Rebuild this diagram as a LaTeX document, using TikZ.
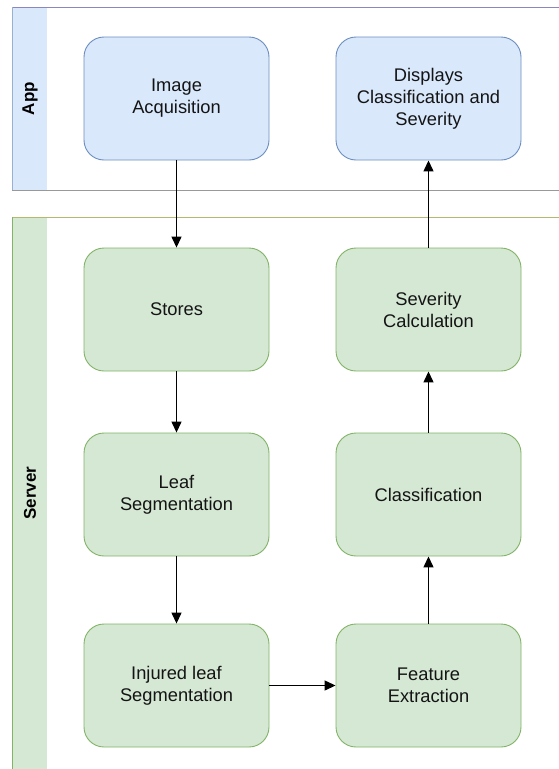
\documentclass[tikz,border=0pt]{standalone}
\usepackage{fontspec}
\setmainfont{Liberation Sans}
\usetikzlibrary{arrows.meta}
\definecolor{bfill}{HTML}{DAE8FC}
\definecolor{bstroke}{HTML}{6C8EBF}
\definecolor{gfill}{HTML}{D5E8D4}
\definecolor{gstroke}{HTML}{82B366}
\definecolor{lanetop}{HTML}{8A86C0}
\definecolor{srvtop}{HTML}{B3BA6E}
\definecolor{txt}{HTML}{141414}
\tikzset{
  box/.style={rounded corners=20pt, minimum width=185pt, minimum height=123pt,
    align=center, text=txt, font=\fontsize{18.3}{22}\selectfont, inner sep=0pt, line width=0.9pt},
  bluebox/.style={box, fill=bfill, draw=bstroke},
  greenbox/.style={box, fill=gfill, draw=gstroke},
  lanelabel/.style={rotate=90, font=\bfseries\fontsize{17}{20}\selectfont, text=black},
  conn/.style={line width=1.3pt, -{Triangle[length=11pt,width=10pt]}}
}
\begin{document}
\begin{tikzpicture}[x=1pt,y=-1pt]
\useasboundingbox (0,0) rectangle (558,769);
\fill[white] (0,0) rectangle (558,769);
% App lane
\draw[line width=1pt, draw=gray!80] (12,7) rectangle (565,190);
\fill[bfill] (12,7) rectangle (47,190);
\draw[line width=1pt, draw=lanetop] (12,7) -- (565,7);
\draw[line width=1pt, draw=bstroke!70] (12,7) -- (12,190);
\node[lanelabel] (applbl) at (30,98.5) {App};
% Server lane
\draw[line width=1pt, draw=gray!60] (12,217) rectangle (565,780);
\fill[gfill] (12,217) rectangle (47,780);
\draw[line width=1pt, draw=srvtop] (12,217) -- (565,217);
\draw[line width=1pt, draw=gstroke] (12,217) -- (12,780);
\node[lanelabel] (srvlbl) at (30,493) {Server};
% nodes
\node[bluebox] (acq) at (176.5,98.5) {Image\\Acquisition};
\node[bluebox] (disp) at (428.5,98.5) {Displays\\Classification and\\Severity};
\node[greenbox] (stores) at (176.5,309.5) {Stores};
\node[greenbox] (sev) at (428.5,309.5) {Severity\\Calculation};
\node[greenbox] (leaf) at (176.5,494.5) {Leaf\\Segmentation};
\node[greenbox] (cls) at (428.5,494.5) {Classification};
\node[greenbox] (inj) at (176.5,685.5) {Injured leaf\\Segmentation};
\node[greenbox] (feat) at (428.5,685.5) {Feature\\Extraction};
% connectors
\draw[conn] (acq) -- (stores);
\draw[conn] (stores) -- (leaf);
\draw[conn] (leaf) -- (inj);
\draw[conn] (inj) -- (feat);
\draw[conn] (feat) -- (cls);
\draw[conn] (cls) -- (sev);
\draw[conn] (sev) -- (disp);
\end{tikzpicture}
\end{document}
